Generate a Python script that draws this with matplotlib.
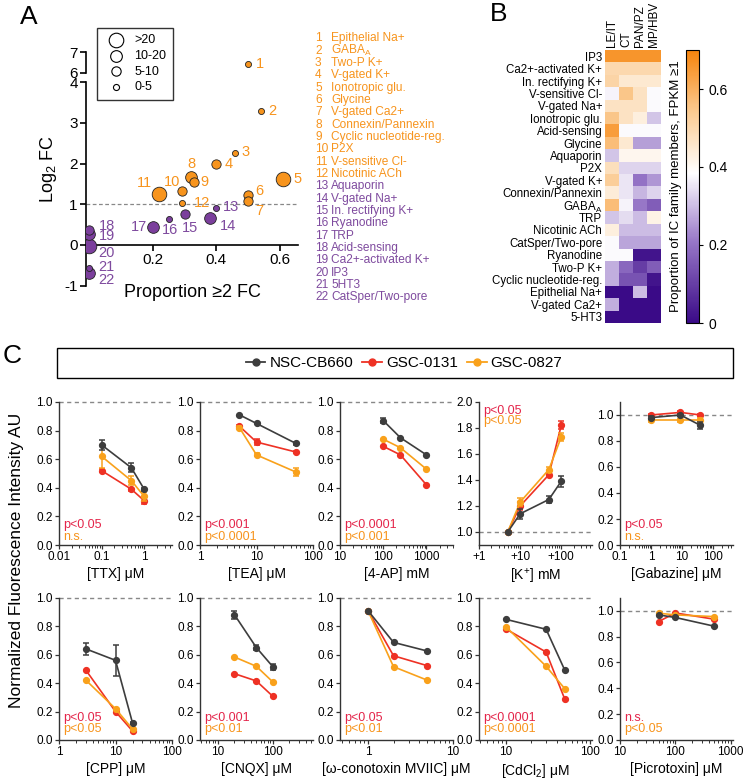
import matplotlib
matplotlib.use('Agg')
import matplotlib.pyplot as plt
import numpy as np
from matplotlib.colors import LinearSegmentedColormap
from matplotlib.patches import Rectangle
from matplotlib.lines import Line2D
from matplotlib.ticker import NullFormatter

plt.rcParams['font.family'] = ['Liberation Sans', 'DejaVu Sans']
plt.rcParams['mathtext.fontset'] = 'custom'
plt.rcParams['mathtext.rm'] = 'Liberation Sans'
plt.rcParams['mathtext.it'] = 'Liberation Sans:italic'
plt.rcParams['mathtext.bf'] = 'Liberation Sans:bold'

# ---------------- Panel A data ----------------
ic_names = ['Epithelial Na+', 'GABA$_\\mathrm{A}$', 'Two-P K+', 'V-gated K+', 'Ionotropic glu.',
            'Glycine', 'V-gated Ca2+', 'Connexin/Pannexin', 'Cyclic nucleotide-reg.', 'P2X',
            'V-sensitive Cl-', 'Nicotinic ACh', 'Aquaporin', 'V-gated Na+', 'In. rectifying K+',
            'Ryanodine', 'TRP', 'Acid-sensing', 'Ca2+-activated K+', 'IP3', '5HT3', 'CatSper/Two-pore']
prop_2fc = [0.50, 0.54, 0.46, 0.40, 0.61, 0.50, 0.50, 0.32, 0.33, 0.29, 0.22,
            0.29, 0.40, 0.38, 0.30, 0.25, 0.20, 0.0, 0.0, 0.0, 0.0, 0.0]
log2_fc = [6.43, 3.30, 2.26, 1.98, 1.61, 1.23, 1.09, 1.68, 1.55, 1.33, 1.25,
           1.02, 0.91, 0.66, 0.76, 0.65, 0.43, 0.38, 0.26, -0.02, -0.56, -0.68]
size_class = ['0-5', '0-5', '0-5', '5-10', '>20', '5-10', '5-10', '10-20', '5-10', '5-10', '>20',
              '0-5', '0-5', '10-20', '5-10', '0-5', '10-20', '5-10', '10-20', '>20', '0-5', '10-20']
n_up = 12
size_labels = ['>20', '10-20', '5-10', '0-5']

# ---------------- Panel B data ----------------
heat_cols = ['LE/IT', 'CT', 'PAN/PZ', 'MP/HBV']
heat_rows = ['IP3', 'Ca2+-activated K+', 'In. rectifying K+', 'V-sensitive Cl-', 'V-gated Na+',
             'Ionotropic glu.', 'Acid-sensing', 'Glycine', 'Aquaporin', 'P2X', 'V-gated K+',
             'Connexin/Pannexin', 'GABA$_\\mathrm{A}$', 'TRP', 'Nicotinic ACh', 'CatSper/Two-pore',
             'Ryanodine', 'Two-P K+', 'Cyclic nucleotide-reg.', 'Epithelial Na+', 'V-gated Ca2+', '5-HT3']
heat_vals = [
    [0.66, 0.66, 0.66, 0.66],
    [0.50, 0.50, 0.50, 0.50],
    [0.51, 0.45, 0.45, 0.45],
    [0.37, 0.55, 0.47, 0.38],
    [0.47, 0.47, 0.47, 0.38],
    [0.55, 0.47, 0.43, 0.31],
    [0.64, 0.38, 0.38, 0.38],
    [0.57, 0.45, 0.26, 0.26],
    [0.31, 0.41, 0.41, 0.41],
    [0.48, 0.33, 0.33, 0.33],
    [0.53, 0.35, 0.20, 0.25],
    [0.44, 0.35, 0.29, 0.33],
    [0.57, 0.37, 0.21, 0.16],
    [0.31, 0.34, 0.30, 0.42],
    [0.43, 0.30, 0.30, 0.30],
    [0.38, 0.27, 0.27, 0.27],
    [0.38, 0.38, 0.02, 0.02],
    [0.28, 0.18, 0.10, 0.16],
    [0.28, 0.14, 0.14, 0.02],
    [0.00, 0.00, 0.30, 0.00],
    [0.28, 0.00, 0.00, 0.00],
    [0.00, 0.00, 0.00, 0.00],
]

# ---------------- Panel C data ----------------
lines_names = ['NSC-CB660', 'GSC-0131', 'GSC-0827']

ttx_conc = [0.1, 0.5, 1]
ttx_nsc = [0.70, 0.54, 0.39]
ttx_0131 = [0.52, 0.39, 0.31]
ttx_0827 = [0.62, 0.45, 0.34]
ttx_err = [[0.035, 0.03, 0.01], [0.01, 0.01, 0.025], [0.08, 0.03, 0.03]]

tea_conc = [5, 10, 50]
tea_nsc = [0.91, 0.85, 0.71]
tea_0131 = [0.83, 0.72, 0.65]
tea_0827 = [0.82, 0.63, 0.51]
tea_err = [[0, 0, 0.01], [0.01, 0.02, 0.01], [0.01, 0.01, 0.025]]

ap_conc = [100, 250, 1000]
ap_nsc = [0.87, 0.75, 0.63]
ap_0131 = [0.69, 0.63, 0.42]
ap_0827 = [0.74, 0.68, 0.53]
ap_err = [[0.02, 0, 0], [0, 0, 0], [0, 0, 0]]

k_conc = [5, 10, 50, 100]
k_nsc = [1.0, 1.14, 1.25, 1.39]
k_0131 = [1.0, 1.20, 1.44, 1.82]
k_0827 = [1.0, 1.23, 1.48, 1.73]
k_err = [[0, 0.04, 0.03, 0.04], [0, 0.03, 0.01, 0.03], [0, 0.03, 0.02, 0.03]]

gbz_conc = [1, 9, 40]
gbz_nsc = [0.98, 1.00, 0.92]
gbz_0131 = [1.00, 1.02, 1.00]
gbz_0827 = [0.96, 0.96, 0.96]
gbz_err = [[0.01, 0.01, 0.025], [0.01, 0.01, 0.01], [0.01, 0.01, 0.02]]

cpp_conc = [3, 10, 20]
cpp_nsc = [0.64, 0.56, 0.12]
cpp_0131 = [0.49, 0.20, 0.063]
cpp_0827 = [0.42, 0.22, 0.077]
cpp_err = [[0.04, 0.11, 0.01], [0, 0, 0], [0, 0, 0]]

cnqx_conc = [20, 50, 100]
cnqx_nsc = [0.88, 0.65, 0.515]
cnqx_0131 = [0.466, 0.415, 0.307]
cnqx_0827 = [0.583, 0.518, 0.408]
cnqx_err = [[0.03, 0.02, 0.02], [0, 0, 0], [0, 0, 0]]

mviic_conc = [1, 2, 5]
mviic_nsc = [0.91, 0.686, 0.625]
mviic_0131 = [0.91, 0.592, 0.522]
mviic_0827 = [0.91, 0.515, 0.42]
mviic_err = [[0, 0, 0], [0, 0, 0], [0, 0, 0]]

cd_conc = [10, 30, 50]
cd_nsc = [0.848, 0.778, 0.49]
cd_0131 = [0.78, 0.618, 0.286]
cd_0827 = [0.796, 0.518, 0.36]
cd_err = [[0, 0, 0], [0, 0, 0], [0, 0, 0]]

ptx_conc = [50, 100, 500]
ptx_nsc = [0.967, 0.947, 0.88]
ptx_0131 = [0.916, 0.982, 0.934]
ptx_0827 = [0.98, 0.967, 0.954]
ptx_err = [[0, 0, 0], [0, 0, 0], [0, 0, 0]]

# ---------------- styling ----------------
W, H = 749, 780
ORANGE = '#F7941D'
PURPLE = '#7B3F9C'
PURPLE_TXT = '#7E4A9E'
C_NSC = '#3D3D3D'
C_0131 = '#EE3124'
C_0827 = '#F9A11B'
P_RED = '#E4254A'
P_ORANGE = '#F7941D'


def fx(px):
    return px / W


def fy(py):
    return 1 - py / H


fig = plt.figure(figsize=(W / 100, H / 100), dpi=100)

# =============== Panel A ===============
def ybreak(v):
    # compress the 6-7 range above the axis break
    v = np.asarray(v, dtype=float)
    return np.where(v > 5, 4.23 + (v - 6) * 0.51, v)

axa = fig.add_axes([fx(86), fy(285.7), fx(298) - fx(86), (285.7 - 52) / H])
sizes = {'>20': 110, '10-20': 71, '5-10': 45, '0-5': 19}
colors_a = [ORANGE if i < n_up else PURPLE for i in range(len(ic_names))]
order = np.argsort([-sizes[s] for s in size_class], kind='stable')
for i in order:
    axa.scatter(prop_2fc[i], ybreak(log2_fc[i]), s=sizes[size_class[i]], color=colors_a[i],
                edgecolor='#222222', linewidth=0.6, zorder=3)

label_offsets = [(8, 0, 'left'), (7, 0, 'left'), (6, 1, 'left'), (8, 0, 'left'), (10, 0, 'left'),
                 (7, 4, 'left'), (7, -10, 'left'), (0, 13, 'center'), (6, 0, 'left'),
                 (-1, 9, 'right'), (-7, 11, 'right'), (12, 0, 'left'), (6, 1, 'left'),
                 (10, -8, 'left'), (5, -14, 'center'), (1, -11, 'center'), (-6, 0, 'right'),
                 (9, 4, 'left'), (9, -2, 'left'), (9, -7, 'left'), (9, 1, 'left'), (9, -7, 'left')]
for i, (dx, dy, ha) in enumerate(label_offsets):
    axa.annotate(str(i + 1), (prop_2fc[i], ybreak(log2_fc[i])), xytext=(dx * 0.72, dy * 0.72),
                 textcoords='offset points', ha=ha, va='center', fontsize=10.5,
                 color=ORANGE if i < n_up else PURPLE_TXT, annotation_clip=False)

axa.axhline(1.0, ls=(0, (3, 2)), color='#888888', lw=0.9, zorder=1)
axa.set_xlim(-0.011, 0.657)
axa.set_ylim(-1.0, float(ybreak(7.0)))
axa.spines['top'].set_visible(False)
axa.spines['right'].set_visible(False)
axa.spines['bottom'].set_position(('data', 0))
axa.spines['left'].set_bounds(-1, 4)
for s in ['left', 'bottom']:
    axa.spines[s].set_linewidth(1.2)
axa.plot([0, 0], ybreak([6.0, 7.0]), transform=axa.get_yaxis_transform(), color='black',
         lw=1.2, clip_on=False)
axa.set_yticks(list(range(-1, 5)) + list(ybreak([6.0, 7.0])))
axa.set_yticklabels(['-1', '0', '1', '2', '3', '4', '6', '7'])
axa.set_xticks([0.2, 0.4, 0.6])
axa.set_xticklabels(['0.2', '0.4', '0.6'])
axa.tick_params(labelsize=11, width=1.2, length=4, pad=2)
axa.set_xlabel('Proportion ≥2 FC', fontsize=13, labelpad=12)
axa.set_ylabel('Log$_2$ FC', fontsize=13, labelpad=4)

handles = [axa.scatter([], [], s=sizes[s], facecolor='white', edgecolor='black', linewidth=0.8)
           for s in size_labels]
leg = axa.legend(handles, size_labels, loc='upper left', bbox_to_anchor=(fx(97), fy(28)),
                 bbox_transform=fig.transFigure, fontsize=9, frameon=True, fancybox=False,
                 edgecolor='black', labelspacing=0.3, handletextpad=0.5, borderpad=0.5,
                 borderaxespad=0, scatterpoints=1)
leg.get_frame().set_linewidth(1.0)

# list of names
for i, name in enumerate(ic_names):
    c = ORANGE if i < n_up else PURPLE_TXT
    yy = fy(38.3 + i * 12.33)
    fig.text(fx(315), yy, str(i + 1), fontsize=8.6, color=c, va='center', ha='left')
    fig.text(fx(331), yy, name, fontsize=8.6, color=c, va='center', ha='left')

# =============== Panel B ===============
cmap = LinearSegmentedColormap.from_list(
    'puor', [(0.0, '#3A0A87'), (0.3, '#9878C8'), (0.55, '#FFFFFF'), (0.78, '#FBC98E'), (1.0, '#F7840C')])
axb = fig.add_axes([fx(605), fy(323), fx(661) - fx(605), (323 - 50) / H])
im = axb.imshow(np.array(heat_vals), cmap=cmap, vmin=0, vmax=0.7, aspect='auto',
                interpolation='nearest')
axb.set_yticks(range(len(heat_rows)))
axb.set_yticklabels(heat_rows, fontsize=8.3)
axb.set_xticks(range(len(heat_cols)))
axb.set_xticklabels(heat_cols, rotation=90, fontsize=8.5)
axb.xaxis.tick_top()
axb.tick_params(length=0, pad=2)
for s in axb.spines.values():
    s.set_visible(False)

cax = fig.add_axes([fx(686), fy(323), 13 / W, (323 - 50) / H])
cb = fig.colorbar(im, cax=cax, ticks=[0, 0.2, 0.4, 0.6])
cb.ax.set_yticklabels(['0', '0.2', '0.4', '0.6'])
cb.ax.tick_params(labelsize=10, length=3, width=0.8)
cb.outline.set_linewidth(0.8)
cb.set_label('Proportion of IC family members, FPKM ≥1', fontsize=9.5, labelpad=3)
cb.ax.yaxis.set_label_position('left')

# =============== Panel C ===============
def dose_panel(rect, conc, nsc, g0131, g0827, errs, xlim, xticks, xticklabels, ylim, yticks,
               xlabel, pvals, pypos, ptop=False):
    ax = fig.add_axes(rect)
    ax.set_xscale('log')
    ax.axhline(1.0, ls=(0, (3, 2.5)), color='#888888', lw=1.0, zorder=1, clip_on=False)
    for vals, err, col in [(g0131, errs[1], C_0131), (g0827, errs[2], C_0827), (nsc, errs[0], C_NSC)]:
        x = np.array(conc, dtype=float)
        y = np.array(vals, dtype=float)
        e = np.array(err, dtype=float)
        ax.plot(x, y, '-o', color=col, lw=1.2, ms=4.2, zorder=3, clip_on=False)
        m = e > 0
        if m.any():
            ax.errorbar(x[m], y[m], yerr=e[m], fmt='none', ecolor=col, elinewidth=1.1,
                        capsize=2.2, capthick=1.1, zorder=3)
    ax.set_xlim(*xlim)
    ax.set_ylim(*ylim)
    ax.set_xticks(xticks)
    ax.set_xticklabels(xticklabels)
    ax.xaxis.set_minor_formatter(NullFormatter())
    ax.set_yticks(yticks)
    ax.set_yticklabels(['%.1f' % t for t in yticks])
    ax.spines['top'].set_visible(False)
    ax.spines['right'].set_visible(False)
    for s in ['left', 'bottom']:
        ax.spines[s].set_linewidth(1.0)
        ax.spines[s].set_color('#333333')
    ax.tick_params(which='major', labelsize=8.5, length=3, width=0.9, pad=1.5, colors='#333333',
                   labelcolor='black')
    ax.tick_params(which='minor', length=2, width=0.7, colors='#333333')
    ax.set_xlabel(xlabel, fontsize=10, labelpad=3)
    if ptop:
        ys = [0.94, 0.865]
    else:
        ys = pypos
    ax.text(0.04, ys[0], pvals[0], transform=ax.transAxes, color=P_RED, fontsize=9,
            va='center', ha='left')
    ax.text(0.04, ys[1], pvals[1], transform=ax.transAxes, color=P_ORANGE, fontsize=9,
            va='center', ha='left')
    return ax


col_left = [59, 200, 340, 479, 620]
aw = 113 / W
r1 = (fy(545), (545 - 402) / H)
r2 = (fy(740), (740 - 597.7) / H)
y01 = [0.0, 0.2, 0.4, 0.6, 0.8, 1.0]
p1 = [0.14, 0.056]
p2 = [0.155, 0.077]

dose_panel([fx(col_left[0]), r1[0], aw, r1[1]], ttx_conc, ttx_nsc, ttx_0131, ttx_0827, ttx_err,
           (0.01, 4.5), [0.01, 0.1, 1], ['0.01', '0.1', '1'], (0, 1.0), y01,
           '[TTX] μM', ['p<0.05', 'n.s.'], p1)
dose_panel([fx(col_left[1]), r1[0], aw, r1[1]], tea_conc, tea_nsc, tea_0131, tea_0827, tea_err,
           (1, 100), [1, 10, 100], ['1', '10', '100'], (0, 1.0), y01,
           '[TEA] μM', ['p<0.001', 'p<0.0001'], p1)
dose_panel([fx(col_left[2]), r1[0], aw, r1[1]], ap_conc, ap_nsc, ap_0131, ap_0827, ap_err,
           (10, 4100), [10, 100, 1000], ['10', '100', '1000'], (0, 1.0), y01,
           '[4-AP] mM', ['p<0.0001', 'p<0.001'], p1)
dose_panel([fx(col_left[3]), r1[0], aw, r1[1]], k_conc, k_nsc, k_0131, k_0827, k_err,
           (1, 560), [1, 10, 100], ['+1', '+10', '+100'], (0.9, 2.0),
           [1.0, 1.2, 1.4, 1.6, 1.8, 2.0], '[K$^{+}$] mM', ['p<0.05', 'p<0.05'], p1, ptop=True)
dose_panel([fx(col_left[4]), r1[0], aw, r1[1]], gbz_conc, gbz_nsc, gbz_0131, gbz_0827, gbz_err,
           (0.1, 450), [0.1, 1, 10, 100], ['0.1', '1', '10', '100'], (0, 1.1), y01,
           '[Gabazine] μM', ['p<0.05', 'n.s.'], p1)

dose_panel([fx(col_left[0]), r2[0], aw, r2[1]], cpp_conc, cpp_nsc, cpp_0131, cpp_0827, cpp_err,
           (1, 100), [1, 10, 100], ['1', '10', '100'], (0, 1.0), y01,
           '[CPP] μM', ['p<0.05', 'p<0.05'], p2)
dose_panel([fx(col_left[1]), r2[0], aw, r2[1]], cnqx_conc, cnqx_nsc, cnqx_0131, cnqx_0827, cnqx_err,
           (4.7, 540), [10, 100], ['10', '100'], (0, 1.0), y01,
           '[CNQX] μM', ['p<0.001', 'p<0.01'], p2)
dose_panel([fx(col_left[2]), r2[0], aw, r2[1]], mviic_conc, mviic_nsc, mviic_0131, mviic_0827,
           mviic_err, (0.47, 10), [1, 10], ['1', '10'], (0, 1.0), y01,
           '[ω-conotoxin MVIIC] μM', ['p<0.05', 'p<0.01'], p2)
dose_panel([fx(col_left[3]), r2[0], aw, r2[1]], cd_conc, cd_nsc, cd_0131, cd_0827, cd_err,
           (4.8, 105), [10, 100], ['10', '100'], (0, 1.0), y01,
           '[CdCl$_2$] μM', ['p<0.0001', 'p<0.0001'], p2)
dose_panel([fx(col_left[4]), r2[0], aw, r2[1]], ptx_conc, ptx_nsc, ptx_0131, ptx_0827, ptx_err,
           (10, 1100), [10, 100, 1000], ['10', '100', '1000'], (0, 1.1), y01,
           '[Picrotoxin] μM', ['n.s.', 'p<0.05'], p2)

fig.text(fx(17), fy(560), 'Normalized Fluorescence Intensity AU', rotation=90, fontsize=12.5,
         ha='center', va='center')

# legend box for panel C
fig.patches.append(Rectangle((fx(57), fy(378)), 676 / W, 30 / H, transform=fig.transFigure,
                             fill=False, edgecolor='black', lw=1.0))
leg_handles = [Line2D([], [], color=c, marker='o', ms=5, lw=1.3) for c in (C_NSC, C_0131, C_0827)]
fig.legend(leg_handles, lines_names, loc='center', bbox_to_anchor=(fx(404), fy(363)), ncol=3,
           frameon=False, fontsize=11, handlelength=1.3, handletextpad=0.25, columnspacing=0.6)

# panel letters
fig.text(fx(20), fy(17), 'A', fontsize=19, ha='left', va='center')
fig.text(fx(490), fy(14), 'B', fontsize=19, ha='left', va='center')
fig.text(fx(3), fy(356), 'C', fontsize=19, ha='left', va='center')

fig.savefig('out.png', dpi=100)
